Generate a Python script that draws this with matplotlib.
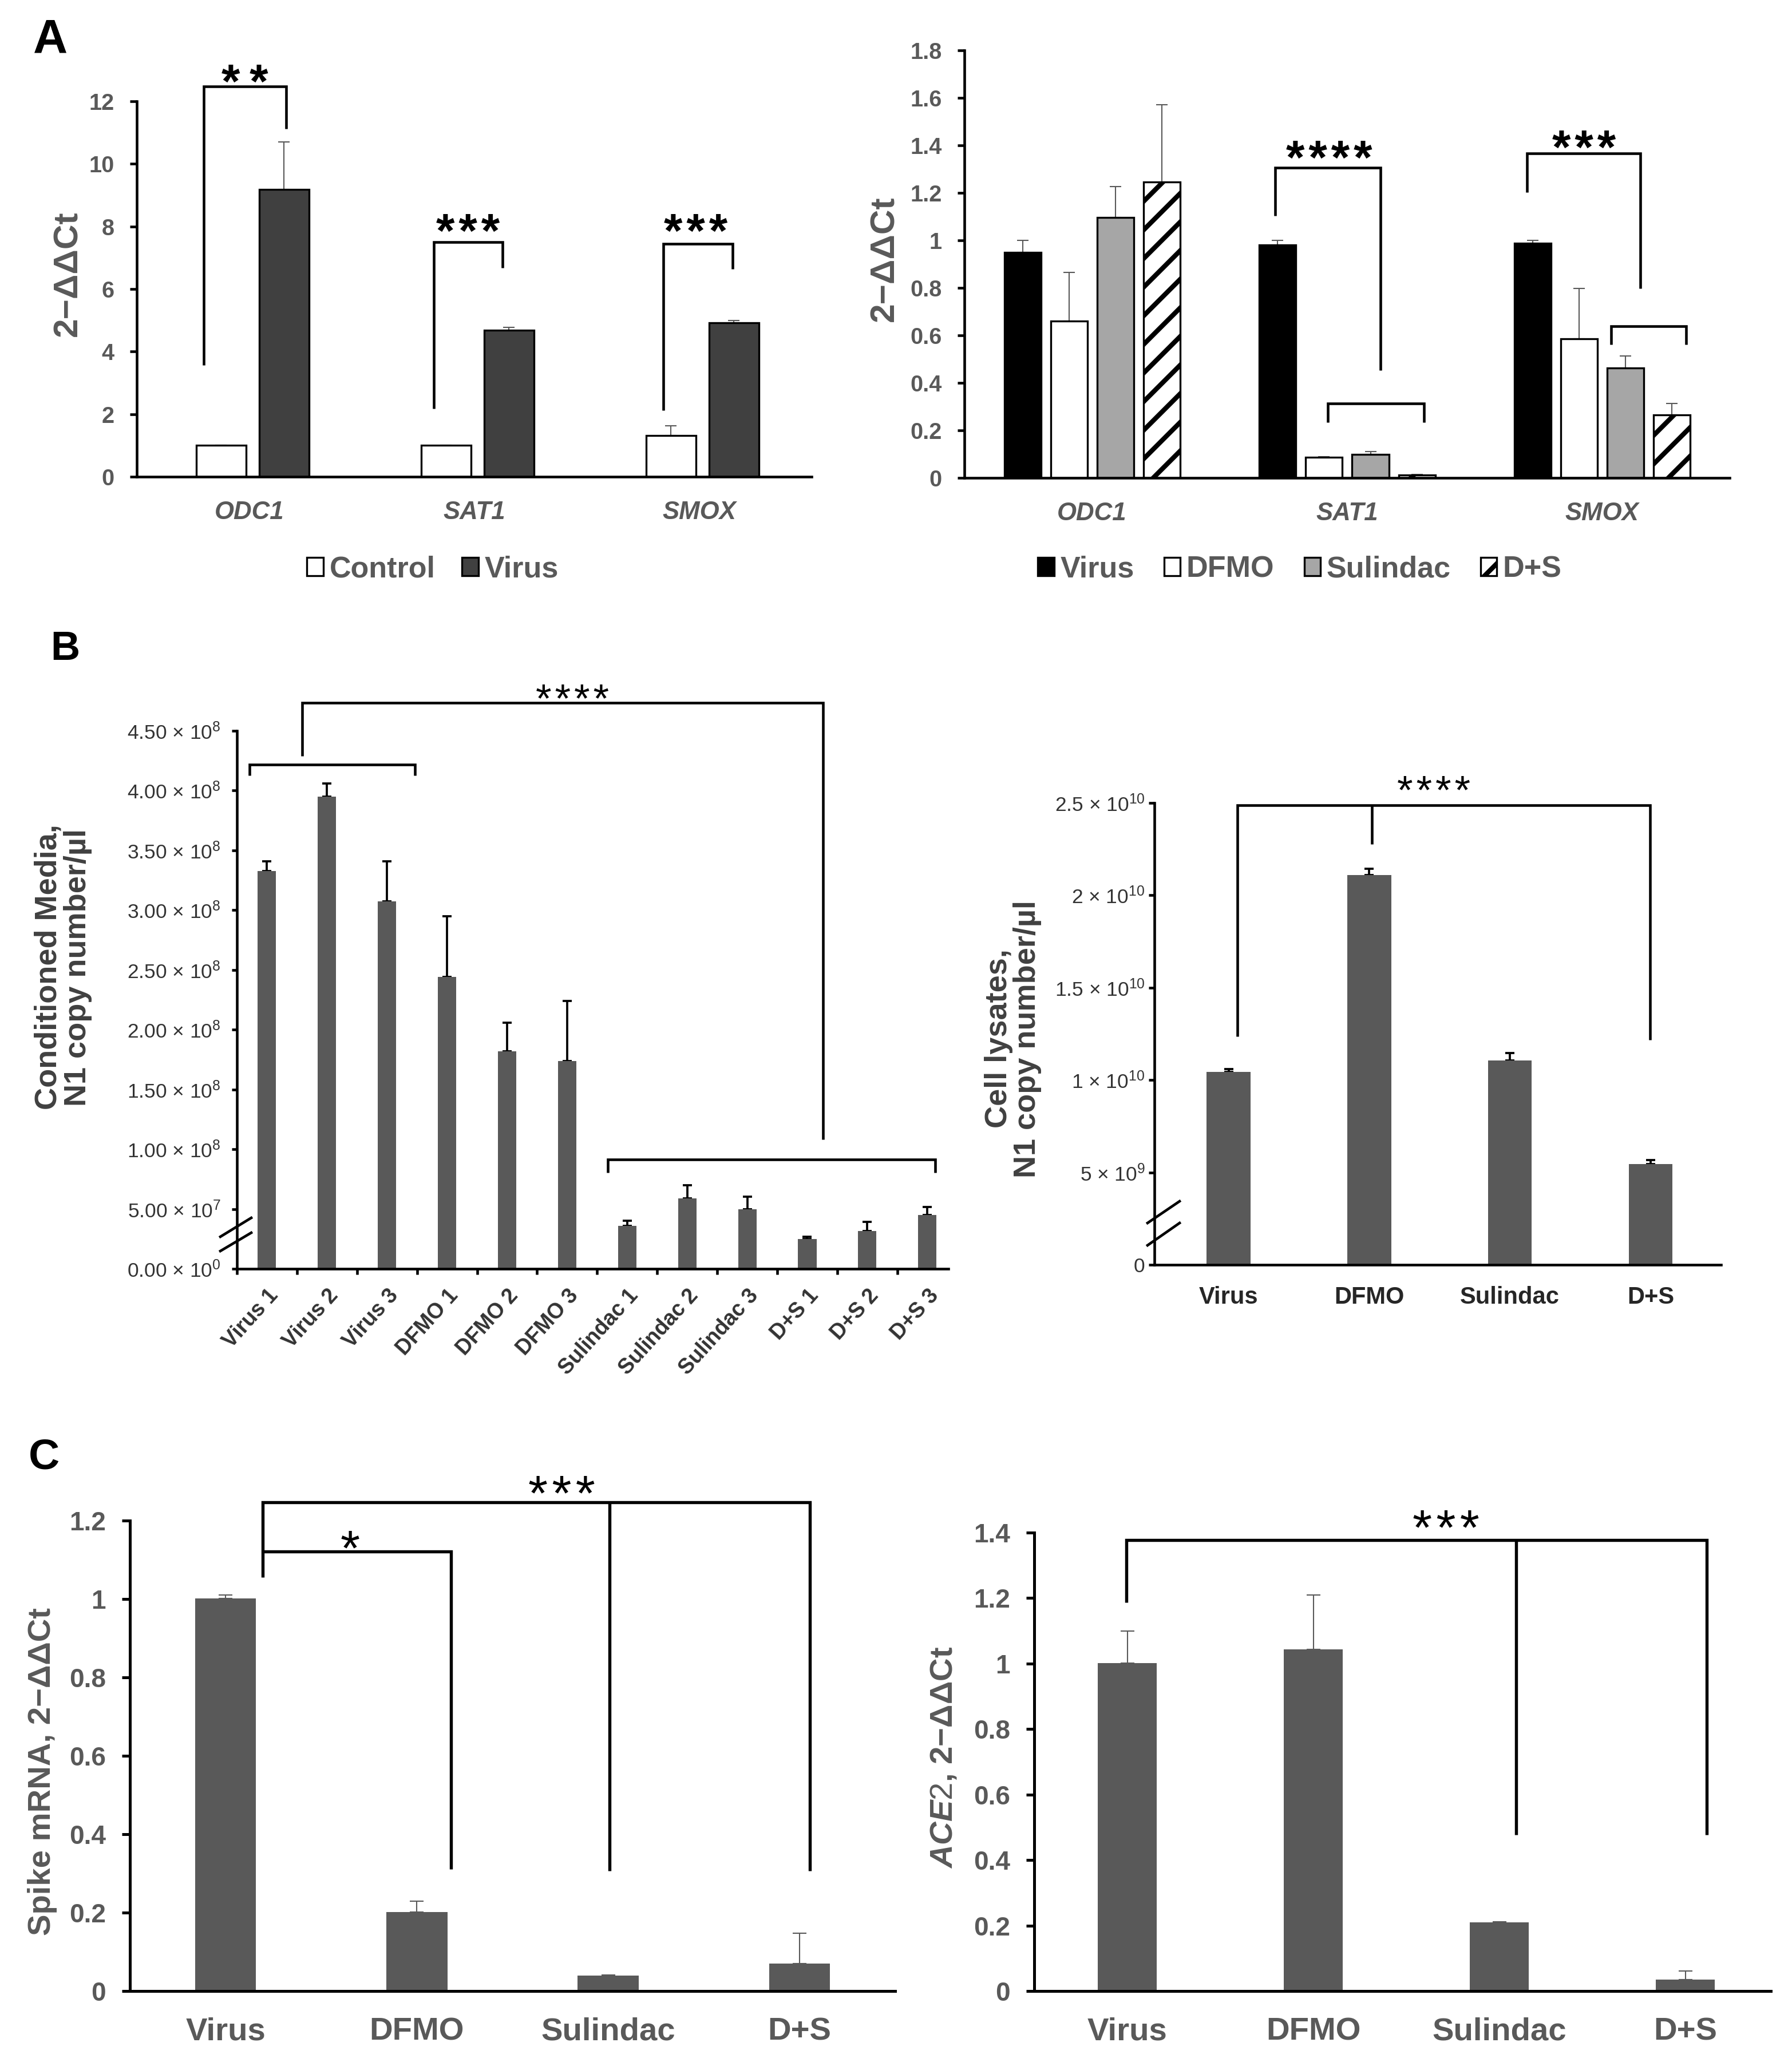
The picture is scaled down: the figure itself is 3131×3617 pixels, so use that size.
import numpy as np
import matplotlib
matplotlib.use('Agg')
import matplotlib.pyplot as plt
from matplotlib.patches import Patch
from matplotlib.lines import Line2D

plt.rcParams['font.family'] = ['Liberation Sans', 'DejaVu Sans']
plt.rcParams['mathtext.fontset'] = 'custom'
plt.rcParams['mathtext.rm'] = 'Liberation Sans'
plt.rcParams['mathtext.it'] = 'Liberation Sans:italic:bold'
plt.rcParams['mathtext.bf'] = 'Liberation Sans:bold'
plt.rcParams['hatch.linewidth'] = 2.0

# ---- data: panel A ----
genes = ['ODC1', 'SAT1', 'SMOX']
a1_control = [1.0, 1.0, 1.31]
a1_control_err = [0.0, 0.0, 0.31]
a1_virus = [9.18, 4.69, 4.92]
a1_virus_err = [1.52, 0.09, 0.08]
a1_yticks = [0, 2, 4, 6, 8, 10, 12]

a2_labels = ['Virus', 'DFMO', 'Sulindac', 'D+S']
a2_virus = [0.95, 0.98, 0.987]
a2_virus_err = [0.05, 0.02, 0.013]
a2_dfmo = [0.661, 0.086, 0.586]
a2_dfmo_err = [0.204, 0.004, 0.212]
a2_sul = [1.097, 0.098, 0.463]
a2_sul_err = [0.13, 0.012, 0.051]
a2_ds = [1.246, 0.012, 0.264]
a2_ds_err = [0.326, 0.003, 0.05]
a2_yticks = [0, 0.2, 0.4, 0.6, 0.8, 1.0, 1.2, 1.4, 1.6, 1.8]
a2_yticklabels = ['0', '0.2', '0.4', '0.6', '0.8', '1', '1.2', '1.4', '1.6', '1.8']

# ---- data: panel B ----
b1_samples = ['Virus 1', 'Virus 2', 'Virus 3', 'DFMO 1', 'DFMO 2', 'DFMO 3',
              'Sulindac 1', 'Sulindac 2', 'Sulindac 3', 'D+S 1', 'D+S 2', 'D+S 3']
b1_values = [3.325e8, 3.95e8, 3.075e8, 2.44e8, 1.82e8, 1.74e8,
             3.57e7, 5.87e7, 5.0e7, 2.5e7, 3.17e7, 4.48e7]
b1_err = [0.085e8, 0.11e8, 0.335e8, 0.51e8, 0.24e8, 0.50e8,
          0.43e7, 1.13e7, 1.03e7, 0.2e7, 0.76e7, 0.68e7]
b1_yticks = [0, 5e7, 1e8, 1.5e8, 2e8, 2.5e8, 3e8, 3.5e8, 4e8, 4.5e8]
b1_yticklabels = ['0.00 × 10$^{0}$', '5.00 × 10$^{7}$', '1.00 × 10$^{8}$',
                  '1.50 × 10$^{8}$', '2.00 × 10$^{8}$', '2.50 × 10$^{8}$',
                  '3.00 × 10$^{8}$', '3.50 × 10$^{8}$', '4.00 × 10$^{8}$',
                  '4.50 × 10$^{8}$']

groups = ['Virus', 'DFMO', 'Sulindac', 'D+S']
b2_values = [1.044e10, 2.109e10, 1.106e10, 5.445e9]
b2_err = [0.015e10, 0.034e10, 0.039e10, 0.0215e10]
b2_yticks = [0, 5e9, 1e10, 1.5e10, 2e10, 2.5e10]
b2_yticklabels = ['0', '5 × 10$^{9}$', '1 × 10$^{10}$', '1.5 × 10$^{10}$',
                  '2 × 10$^{10}$', '2.5 × 10$^{10}$']

# ---- data: panel C ----
c1_values = [1.001, 0.202, 0.039, 0.0695]
c1_err = [0.009, 0.027, 0.002, 0.0785]
c1_yticks = [0, 0.2, 0.4, 0.6, 0.8, 1.0, 1.2]
c1_yticklabels = ['0', '0.2', '0.4', '0.6', '0.8', '1', '1.2']
c2_values = [1.001, 1.044, 0.209, 0.035]
c2_err = [0.099, 0.166, 0.002, 0.026]
c2_yticks = [0, 0.2, 0.4, 0.6, 0.8, 1.0, 1.2, 1.4]
c2_yticklabels = ['0', '0.2', '0.4', '0.6', '0.8', '1', '1.2', '1.4']

W, H = 3131, 3617
fig = plt.figure(figsize=(W / 300, H / 300), dpi=300)

GREY = '#595959'
DARK = '#333333'


def pax(l, b, r, t):
    # axes from pixel box
    return fig.add_axes([l / W, 1 - b / H, (r - l) / W, (b - t) / H])


def style(ax, lw=1.1, tlen=3, tpad=6, tsize=9.5, tcolor=GREY, weight='bold'):
    for s in ['top', 'right']:
        ax.spines[s].set_visible(False)
    for s in ['left', 'bottom']:
        ax.spines[s].set_linewidth(lw)
        ax.spines[s].set_color('black')
    ax.tick_params(axis='y', direction='out', length=tlen, width=lw, color='black',
                   labelcolor=tcolor, labelsize=tsize, pad=tpad)
    for t in ax.get_yticklabels():
        t.set_fontweight(weight)


def bracket(ax, xs, ys, lw=1.1):
    ax.plot(xs, ys, color='black', lw=lw, clip_on=False,
            solid_joinstyle='miter', solid_capstyle='butt')


def stars(ax, x, y, n, size, weight='normal', gap='\u200a'):
    ax.annotate(gap.join('*' * n), (x, y), xytext=(0, -0.57 * size),
                textcoords='offset points', ha='center', va='baseline',
                fontsize=size, fontweight=weight, annotation_clip=False)


def up_err(ax, x, y, e, color, lw, cap):
    ax.errorbar(x, y, yerr=[np.zeros(len(e)), e], fmt='none', ecolor=color,
                elinewidth=lw, capsize=cap, capthick=lw, zorder=1)


def fig_line(p1, p2, lw=1.1):
    fig.add_artist(Line2D([p1[0] / W, p2[0] / W], [1 - p1[1] / H, 1 - p2[1] / H],
                          transform=fig.transFigure, color='black', lw=lw))


def fig_text(x, y, s, **kw):
    fig.text(x / W, 1 - y / H, s, ha='center', va='center', **kw)


# ================= A left =================
ax = pax(239, 833, 1418, 177)
x = np.arange(len(genes))
ax.bar(x - 0.125, a1_control, 0.22, color='white', edgecolor='black', lw=0.8, zorder=2)
ax.bar(x + 0.155, a1_virus, 0.22, color='#404040', edgecolor='black', lw=0.8, zorder=2)
up_err(ax, x - 0.125, a1_control, a1_control_err, GREY, 0.5, 2.3)
up_err(ax, x + 0.155, a1_virus, a1_virus_err, GREY, 0.5, 2.3)
ax.set_xlim(-0.5, 2.5)
ax.set_ylim(0, 12)
ax.set_yticks(a1_yticks)
ax.set_xticks(x)
ax.set_xticklabels(genes, fontsize=10.5, fontweight='bold', style='italic', color=GREY)
ax.tick_params(axis='x', length=0, pad=10)
style(ax, tlen=3, tpad=6.5, tsize=9.5)
bracket(ax, [-0.202, -0.202, 0.163, 0.163], [3.56, 12.47, 12.47, 11.13])
bracket(ax, [0.82, 0.82, 1.125, 1.125], [2.18, 7.5, 7.5, 6.68])
bracket(ax, [1.84, 1.84, 2.15, 2.15], [2.13, 7.45, 7.45, 6.64])
stars(ax, -0.02, 12.97, 2, 20, 'bold', gap='\u2009')
stars(ax, 0.973, 8.21, 3, 20, 'bold')
stars(ax, 1.986, 8.21, 3, 20, 'bold')
fig_text(119, 478, '2−ΔΔCt', rotation=90, fontsize=14.5, fontweight='bold', color=GREY)
fig.legend([Patch(facecolor='white', edgecolor='black', lw=0.8),
            Patch(facecolor='#404040', edgecolor='black', lw=0.8)],
           ['Control', 'Virus'], loc='center', bbox_to_anchor=(756 / W, 1 - 995 / H),
           ncol=2, frameon=False, prop={'size': 12.5, 'weight': 'bold'},
           labelcolor=GREY, handlelength=0.55, handleheight=0.55,
           handletextpad=0.2, columnspacing=0.9, borderpad=0, borderaxespad=0)

# ================= A right =================
ax = pax(1685, 835, 3022, 88)
x = np.arange(len(genes))
series = [(a2_virus, a2_virus_err, 'black', None),
          (a2_dfmo, a2_dfmo_err, 'white', None),
          (a2_sul, a2_sul_err, '#A6A6A6', None),
          (a2_ds, a2_ds_err, 'white', '//')]
offs = [-0.272, -0.09, 0.092, 0.274]
for (vals, errs, col, hatch), off in zip(series, offs):
    ax.bar(x + off, vals, 0.144, color=col, edgecolor='black', lw=0.8, hatch=hatch, zorder=2)
    up_err(ax, x + off, vals, errs, GREY, 0.5, 2.3)
ax.set_xlim(-0.5, 2.5)
ax.set_ylim(0, 1.8)
ax.set_yticks(a2_yticks)
ax.set_yticklabels(a2_yticklabels)
ax.set_xticks(x)
ax.set_xticklabels(genes, fontsize=10.5, fontweight='bold', style='italic', color=GREY)
ax.tick_params(axis='x', length=0, pad=10)
style(ax, tlen=3, tpad=6.5, tsize=9.5)
bracket(ax, [0.718, 0.718, 1.131, 1.131], [1.104, 1.305, 1.305, 0.453])
bracket(ax, [0.925, 0.925, 1.302, 1.302], [0.233, 0.313, 0.313, 0.233])
bracket(ax, [1.705, 1.705, 2.15, 2.15], [1.203, 1.367, 1.367, 0.798])
bracket(ax, [2.035, 2.035, 2.33, 2.33], [0.561, 0.639, 0.639, 0.561])
stars(ax, 0.93, 1.395, 4, 20, 'bold')
stars(ax, 1.93, 1.437, 3, 20, 'bold')
fig_text(1546, 452, '2−ΔΔCt', rotation=90, fontsize=14.5, fontweight='bold', color=GREY)
fig.legend([Patch(facecolor='black', edgecolor='black', lw=0.8),
            Patch(facecolor='white', edgecolor='black', lw=0.8),
            Patch(facecolor='#A6A6A6', edgecolor='black', lw=0.8),
            Patch(facecolor='white', edgecolor='black', lw=0.8, hatch='//')],
           a2_labels, loc='center', bbox_to_anchor=(2271 / W, 1 - 995 / H),
           ncol=4, frameon=False, prop={'size': 12.5, 'weight': 'bold'},
           labelcolor=GREY, handlelength=0.55, handleheight=0.55,
           handletextpad=0.2, columnspacing=1.0, borderpad=0, borderaxespad=0)

# ================= B left =================
ax = pax(414, 2217, 1657, 1277)
x = np.arange(len(b1_samples))
ax.bar(x, b1_values, 0.306, color=GREY, zorder=2)
up_err(ax, x, b1_values, b1_err, 'black', 0.9, 2.0)
ax.set_xlim(-0.5, 11.35)
ax.set_ylim(0, 4.5e8)
ax.set_yticks(b1_yticks)
ax.set_yticklabels(b1_yticklabels)
ax.set_xticks(x)
ax.set_xticklabels(b1_samples, rotation=48, ha='right', rotation_mode='anchor',
                   fontsize=9, fontweight='bold', color=DARK)
ax.set_xticks(x - 0.5, minor=True)
ax.tick_params(axis='x', which='major', length=0, pad=7)
ax.tick_params(axis='x', which='minor', length=2.5, width=1.1, direction='out')
style(ax, tlen=2.2, tpad=4.5, tsize=8.5, tcolor=DARK, weight='normal')
bracket(ax, [0.59, 0.59, 9.265, 9.265], [4.29e8, 4.734e8, 4.734e8, 1.083e8])
bracket(ax, [-0.29, -0.29, 2.464, 2.464], [4.127e8, 4.218e8, 4.218e8, 4.127e8])
bracket(ax, [5.673, 5.673, 11.13, 11.13], [0.802e8, 0.913e8, 0.913e8, 0.802e8])
stars(ax, 5.09, 4.845e8, 4, 17)
fig_line((385, 2161), (439, 2128))
fig_line((385, 2186), (439, 2154))
fig_text(110, 1690, 'Conditioned Media,\nN1 copy number/µl', rotation=90, fontsize=13,
         fontweight='bold', color='#404040', linespacing=1.05)

# ================= B right =================
ax = pax(2017, 2210, 3007, 1403)
x = np.arange(len(groups))
ax.bar(x, b2_values, 0.31, color=GREY, zorder=2)
up_err(ax, x, b2_values, b2_err, 'black', 0.9, 2.0)
ax.set_xlim(-0.527, 3.5)
ax.set_ylim(0, 2.5e10)
ax.set_yticks(b2_yticks)
ax.set_yticklabels(b2_yticklabels)
ax.set_xticks(x)
ax.set_xticklabels(groups, fontsize=10, fontweight='bold', color='#262626')
ax.tick_params(axis='x', length=0, pad=9)
style(ax, tlen=2.4, tpad=1.5, tsize=8.5, tcolor=DARK, weight='normal')
bracket(ax, [0.061, 0.061, 2.996, 2.996], [1.236e10, 2.489e10, 2.489e10, 1.219e10])
bracket(ax, [1.018, 1.018], [2.489e10, 2.277e10])
stars(ax, 1.46, 2.62e10, 4, 17)
fig_line((2005, 2137), (2061, 2099))
fig_line((2005, 2176), (2061, 2137))
fig_text(1770, 1815, 'Cell lysates,\nN1 copy number/µl', rotation=90, fontsize=13,
         fontweight='bold', color='#404040', linespacing=1.0)

# ================= C left =================
ax = pax(227, 3479, 1564, 2657)
x = np.arange(len(groups))
ax.bar(x, c1_values, 0.318, color=GREY, zorder=2)
up_err(ax, x, c1_values, c1_err, GREY, 0.5, 2.8)
ax.set_xlim(-0.5, 3.5)
ax.set_ylim(0, 1.2)
ax.set_yticks(c1_yticks)
ax.set_yticklabels(c1_yticklabels)
ax.set_xticks(x)
ax.set_xticklabels(groups, fontsize=13.5, fontweight='bold', color=GREY)
ax.tick_params(axis='x', length=0, pad=11)
style(ax, lw=1.2, tlen=3.4, tpad=6.7, tsize=11)
bracket(ax, [0.193, 0.193, 3.054, 3.054], [1.056, 1.246, 1.246, 0.307], lw=1.3)
bracket(ax, [2.006, 2.006], [1.246, 0.307], lw=1.3)
bracket(ax, [0.193, 1.179, 1.179], [1.1216, 1.1216, 0.3105], lw=1.3)
stars(ax, 1.756, 1.299, 3, 21)
stars(ax, 0.652, 1.16, 1, 21)
fig_text(74, 3095, 'Spike mRNA, 2−ΔΔCt', rotation=90, fontsize=13.5, fontweight='bold',
         color=GREY)

# ================= C right =================
ax = pax(1807, 3479, 3094, 2678)
x = np.arange(len(groups))
ax.bar(x, c2_values, 0.317, color=GREY, zorder=2)
up_err(ax, x, c2_values, c2_err, GREY, 0.5, 2.8)
ax.set_xlim(-0.5, 3.46)
ax.set_ylim(0, 1.4)
ax.set_yticks(c2_yticks)
ax.set_yticklabels(c2_yticklabels)
ax.set_xticks(x)
ax.set_xticklabels(groups, fontsize=13.5, fontweight='bold', color=GREY)
ax.tick_params(axis='x', length=0, pad=11)
style(ax, lw=1.2, tlen=3.4, tpad=6.7, tsize=11)
bracket(ax, [-0.006, -0.006, 3.114, 3.114], [1.187, 1.378, 1.378, 0.478], lw=1.3)
bracket(ax, [2.092, 2.092], [1.378, 0.478], lw=1.3)
stars(ax, 1.715, 1.45, 3, 21)
fig_text(1650, 3071, r'$\mathit{ACE2}$, 2−ΔΔCt', rotation=90, fontsize=13.5,
         fontweight='bold', color=GREY)

# panel letters
fig_text(88, 70, 'A', fontsize=20, fontweight='bold')
fig_text(114, 1135, 'B', fontsize=17, fontweight='bold')
fig_text(77, 2547, 'C', fontsize=18, fontweight='bold')

fig.savefig('out.png', dpi=300)
